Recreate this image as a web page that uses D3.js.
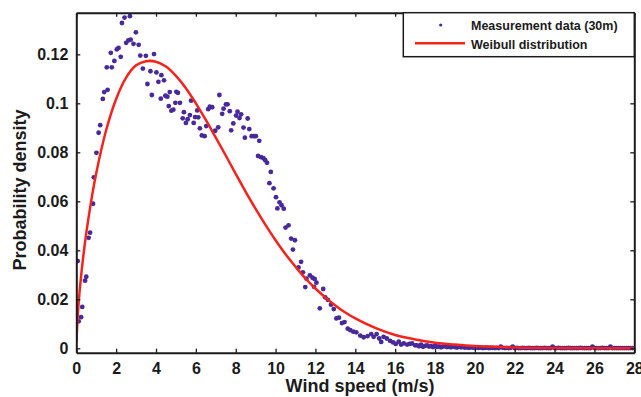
<html lang="en">

<head>
  <meta charset="utf-8">
  <title>Wind speed probability density</title>
  <script type="text/javascript" src="https://d3js.org/d3.v7.min.js"></script>
</head>

<style type="text/css">
  html, body {
    margin: 0;
    padding: 0;
    overflow: hidden;
    background: #fff;
  }

  svg {
    display: block;
    font-family: "Liberation Sans", Arial, Helvetica, sans-serif;
    font-weight: bold;
  }
</style>

<body>
  <svg width="641" height="397"></svg>
  <script>
    const measurement = [
      [0.07, 0.0356], [0.12, 0.0110], [0.24, 0.0127], [0.30, 0.0169], [0.44, 0.0276], [0.50, 0.0292],
      [0.62, 0.0451], [0.69, 0.0472], [0.84, 0.0590], [0.88, 0.0698], [1.01, 0.0798], [1.12, 0.0880],
      [1.20, 0.0911], [1.33, 0.1018], [1.40, 0.1046], [1.53, 0.1147], [1.57, 0.1055], [1.73, 0.1206],
      [1.78, 0.1147], [1.91, 0.1173], [2.03, 0.1220], [2.12, 0.1226], [2.23, 0.1190], [2.29, 0.1328],
      [2.42, 0.1350], [2.50, 0.1247], [2.61, 0.1257], [2.69, 0.1356], [2.73, 0.1260], [2.87, 0.1243],
      [2.99, 0.1290], [3.13, 0.1239], [3.21, 0.1195], [3.34, 0.1142], [3.49, 0.1194], [3.57, 0.1079],
      [3.72, 0.1131], [3.79, 0.1034], [3.90, 0.1201], [4.02, 0.1126], [4.12, 0.1088], [4.24, 0.1019],
      [4.27, 0.1115], [4.40, 0.1094], [4.47, 0.1031], [4.57, 0.1027], [4.64, 0.0989], [4.69, 0.1046],
      [4.77, 0.0970], [4.87, 0.0974], [4.97, 0.1002], [5.02, 0.1047], [5.10, 0.1043], [5.20, 0.1002],
      [5.34, 0.0939], [5.40, 0.0964], [5.50, 0.0920], [5.59, 0.0935], [5.70, 0.0952], [5.76, 0.1011],
      [5.89, 0.0920], [5.96, 0.0944], [6.07, 0.0971], [6.12, 0.0943], [6.20, 0.0898], [6.30, 0.0869],
      [6.44, 0.0866], [6.52, 0.0907], [6.62, 0.0976], [6.70, 0.0986], [6.82, 0.0984], [6.97, 0.0888],
      [7.12, 0.0902], [7.18, 0.1034], [7.32, 0.0957], [7.39, 0.0978], [7.51, 0.0996], [7.59, 0.0996],
      [7.70, 0.0968], [7.77, 0.0890], [7.88, 0.0918], [8.02, 0.0950], [8.09, 0.0966], [8.19, 0.0940],
      [8.27, 0.0955], [8.39, 0.0901], [8.46, 0.0860], [8.60, 0.0938], [8.68, 0.0895], [8.80, 0.0866],
      [8.91, 0.0866], [9.01, 0.0866], [9.12, 0.0785], [9.18, 0.0847], [9.27, 0.0780], [9.39, 0.0776],
      [9.48, 0.0768], [9.57, 0.0757], [9.69, 0.0674], [9.76, 0.0720], [9.90, 0.0653], [10.02, 0.0617],
      [10.09, 0.0571], [10.20, 0.0596], [10.30, 0.0584], [10.41, 0.0570], [10.50, 0.0493], [10.65, 0.0502],
      [10.78, 0.0448], [10.87, 0.0403], [10.97, 0.0441], [11.15, 0.0330], [11.28, 0.0353], [11.37, 0.0310],
      [11.49, 0.0250], [11.55, 0.0284], [11.72, 0.0298], [11.85, 0.0288], [11.93, 0.0251], [11.96, 0.0283],
      [12.05, 0.0268], [12.22, 0.0163], [12.39, 0.0242], [12.49, 0.0208], [12.62, 0.0198], [12.78, 0.0178],
      [12.92, 0.0160], [13.05, 0.0122], [13.18, 0.0125], [13.33, 0.0103], [13.46, 0.0107], [13.62, 0.0080],
      [13.75, 0.0074], [13.90, 0.0068], [14.05, 0.0065], [14.25, 0.0052], [14.42, 0.0045], [14.62, 0.0050],
      [14.80, 0.0058], [14.92, 0.0047], [15.07, 0.0058], [15.20, 0.0040], [15.30, 0.0026], [15.42, 0.0047],
      [15.58, 0.0040], [15.75, 0.0030], [15.90, 0.0024], [16.03, 0.0018], [16.18, 0.0027], [16.30, 0.0015],
      [16.43, 0.0020], [16.60, 0.0015], [16.73, 0.0018], [16.85, 0.0020], [17.0, 0.0012], [17.1, 0.0012],
      [17.2, 0.0008], [17.3, 0.0015], [17.4, 0.0006], [17.5, 0.0010], [17.6, 0.0012], [17.7, 0.0007],
      [17.8, 0.0009], [17.9, 0.0005], [18.0, 0.0010], [18.1, 0.0006], [18.2, 0.0008], [18.3, 0.0004],
      [18.4, 0.0007], [18.5, 0.0009], [18.6, 0.0005], [18.7, 0.0006], [18.8, 0.0004], [18.9, 0.0008],
      [19.0, 0.0005], [19.1, 0.0003], [19.2, 0.0006], [19.3, 0.0004], [19.4, 0.0005], [19.5, 0.0003],
      [19.6, 0.0004], [19.7, 0.0002], [19.8, 0.0004], [19.9, 0.0003], [20.0, 0.0002], [20.1, 0.0003],
      [20.2, 0.0002], [20.3, 0.0003], [20.4, 0.0001], [20.5, 0.0002], [20.6, 0.0003], [20.7, 0.0001],
      [20.8, 0.0002], [20.9, 0.0002], [21.0, 0.0001], [21.1, 0.0002], [21.2, 0.0001], [21.3, 0.0007],
      [21.4, 0.0002], [21.5, 0.0001], [21.6, 0.0002], [21.7, 0.0001], [21.8, 0.0002], [21.9, 0.0007],
      [22.0, 0.0001], [22.1, 0.0002], [22.2, 0.0001], [22.3, 0.0001], [22.4, 0.0002], [22.5, 0.0001],
      [22.6, 0.0001], [22.7, 0.0002], [22.8, 0.0001], [22.9, 0.0001], [23.0, 0.0001], [23.1, 0.0002],
      [23.2, 0.0001], [23.3, 0.0001], [23.4, 0.0001], [23.5, 0.0002], [23.6, 0.0001], [23.7, 0.0001],
      [23.8, 0.0001], [23.9, 0.0007], [24.0, 0.0001], [24.1, 0.0001], [24.2, 0.0002], [24.3, 0.0001],
      [24.4, 0.0001], [24.5, 0.0001], [24.6, 0.0001], [24.7, 0.0002], [24.8, 0.0001], [24.9, 0.0001],
      [25.0, 0.0001], [25.1, 0.0001], [25.2, 0.0001], [25.3, 0.0002], [25.4, 0.0001], [25.5, 0.0001],
      [25.6, 0.0001], [25.7, 0.0001], [25.8, 0.0001], [25.9, 0.0007], [26.0, 0.0001], [26.1, 0.0001],
      [26.2, 0.0001], [26.3, 0.0001], [26.4, 0.0002], [26.5, 0.0001], [26.6, 0.0001], [26.7, 0.0001],
      [26.8, 0.0007], [26.9, 0.0001], [27.0, 0.0001], [27.1, 0.0001], [27.2, 0.0001], [27.3, 0.0001],
      [27.4, 0.0001], [27.5, 0.0001], [27.6, 0.0001], [27.7, 0.0001], [27.8, 0.0001], [27.9, 0.0001]
    ];

    // fitted Weibull curve, sampled off the figure
    const weibullSpeed = [0.005, 0.1, 0.25, 0.5, 0.75, 1, 1.5, 2, 2.5, 3, 3.5, 4, 4.5, 5, 5.5, 6, 6.5, 7,
      7.5, 8, 8.5, 9, 9.5, 10, 10.5, 11, 11.5, 12, 12.5, 13, 13.5, 14, 15, 16, 17, 18, 19, 20, 21, 22, 24, 26, 28];
    const weibullDensity = [0.0024, 0.0168, 0.0303, 0.0470, 0.0603, 0.0715, 0.0891, 0.1018, 0.1105, 0.1155,
      0.1172, 0.1170, 0.1150, 0.1112, 0.1062, 0.1000, 0.0932, 0.0860, 0.0787, 0.0712, 0.0639, 0.0569,
      0.0503, 0.0441, 0.0384, 0.0333, 0.0285, 0.0244, 0.0207, 0.0175, 0.0146, 0.0122, 0.0083, 0.0054,
      0.0036, 0.0023, 0.0015, 0.0009, 0.0006, 0.0003, 0.0001, 0.00003, 0.00001];

    const xTicks = [0, 2, 4, 6, 8, 10, 12, 14, 16, 18, 20, 22, 24, 26, 28];
    const yTicks = [0, 0.02, 0.04, 0.06, 0.08, 0.1, 0.12];
    const legendLabels = ["Measurement data (30m)", "Weibull distribution"];

    const purple = "#48299a";
    const red = "#f5231c";
    const ink = "#1b1b1b";

    const plotLeft = 76.3, plotRight = 634.3, plotTop = 12.7, plotBottom = 352.7;

    const x = d3.scaleLinear().domain([0, 28]).range([plotLeft, plotRight]);
    const y = d3.scaleLinear().domain([-0.0018, 0.1370]).range([plotBottom, plotTop]);

    const svg = d3.select("svg");

    svg.append("clipPath")
      .attr("id", "plot")
      .append("rect")
      .attr("x", plotLeft)
      .attr("y", plotTop)
      .attr("width", plotRight - plotLeft)
      .attr("height", plotBottom - plotTop);

    svg.append("g")
      .attr("clip-path", "url(#plot)")
      .selectAll("circle")
      .data(measurement)
      .enter()
      .append("circle")
      .attr("cx", d => x(d[0]))
      .attr("cy", d => y(d[1]))
      .attr("r", 2.4)
      .attr("fill", purple);

    const line = d3.line()
      .x(d => x(d[0]))
      .y(d => y(d[1]))
      .curve(d3.curveCatmullRom.alpha(0.5));

    svg.append("path")
      .datum(weibullSpeed.map((s, i) => [s, weibullDensity[i]]))
      .attr("clip-path", "url(#plot)")
      .attr("d", line)
      .attr("fill", "none")
      .attr("stroke", red)
      .attr("stroke-width", 2.5);

    // axes: full box, inward ticks
    svg.append("g")
      .attr("transform", `translate(0,${plotBottom})`)
      .call(d3.axisBottom(x).tickValues(xTicks).tickSizeInner(-4).tickSizeOuter(0).tickPadding(10));

    svg.append("g")
      .attr("transform", `translate(${plotLeft},0)`)
      .call(d3.axisLeft(y).tickValues(yTicks).tickFormat(d => d3.format("~g")(d))
        .tickSizeInner(-4).tickSizeOuter(0).tickPadding(8));

    svg.append("g")
      .attr("transform", `translate(0,${plotTop})`)
      .call(d3.axisTop(x).tickValues(xTicks).tickSizeInner(-4).tickSizeOuter(0).tickFormat(""));

    svg.append("g")
      .attr("transform", `translate(${plotRight},0)`)
      .call(d3.axisRight(y).tickValues(yTicks).tickSizeInner(-4).tickSizeOuter(0).tickFormat(""));

    svg.selectAll(".domain")
      .attr("stroke", ink)
      .attr("stroke-width", 2);
    svg.selectAll(".tick line")
      .attr("stroke", ink)
      .attr("stroke-width", 1.3);
    svg.selectAll(".tick text")
      .attr("fill", ink)
      .style("font-family", "'Liberation Sans', Arial, sans-serif")
      .style("font-weight", "bold")
      .style("font-size", "16px");

    // axis titles
    svg.append("text")
      .attr("x", 360)
      .attr("y", 391.5)
      .attr("text-anchor", "middle")
      .attr("fill", ink)
      .style("font-size", "18px")
      .text("Wind speed (m/s)");

    svg.append("text")
      .attr("transform", "translate(26,190) rotate(-90)")
      .attr("text-anchor", "middle")
      .attr("fill", ink)
      .style("font-size", "18px")
      .text("Probability density");

    // legend
    const legend = svg.append("g");
    legend.append("rect")
      .attr("x", 403.3)
      .attr("y", plotTop)
      .attr("width", plotRight - 403.3)
      .attr("height", 44)
      .attr("fill", "#fff")
      .attr("stroke", ink)
      .attr("stroke-width", 1.5);

    legend.append("circle")
      .attr("cx", 440.7)
      .attr("cy", 25)
      .attr("r", 1.6)
      .attr("fill", purple);

    legend.append("line")
      .attr("x1", 415)
      .attr("x2", 465)
      .attr("y1", 43.3)
      .attr("y2", 43.3)
      .attr("stroke", red)
      .attr("stroke-width", 2.5);

    legend.selectAll("text")
      .data(legendLabels)
      .enter()
      .append("text")
      .attr("x", 471)
      .attr("y", (d, i) => 29.7 + i * 19.6)
      .attr("fill", ink)
      .style("font-size", "12.5px")
      .text(d => d);
  </script>
</body>

</html>
